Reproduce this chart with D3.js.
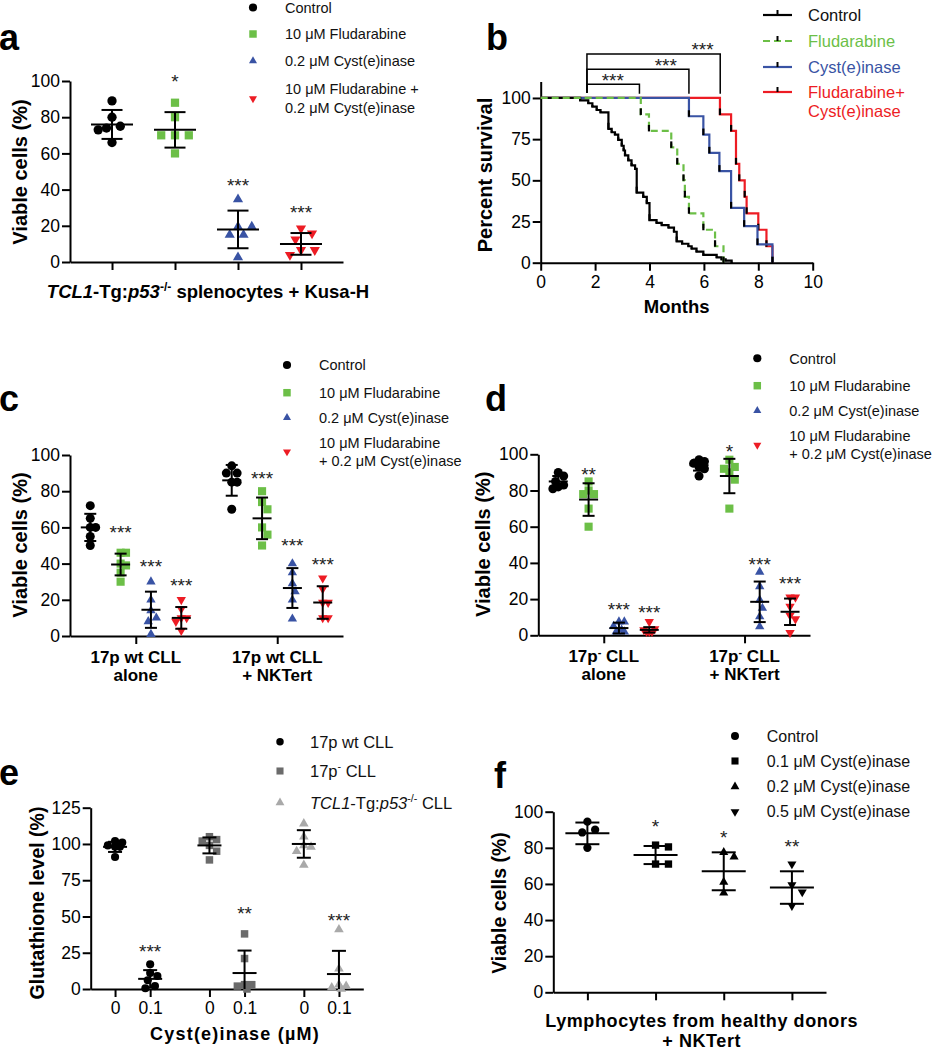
<!DOCTYPE html>
<html>
<head>
<meta charset="utf-8">
<script src="https://cdn.jsdelivr.net/npm/d3@7"></script>
<style>
  body { margin: 0; background: #fff; }
  svg { display: block; }
</style>
</head>
<body>
<svg id="fig" width="937" height="1050"></svg>
<script>
// ---------- data ----------

// panel a : TCL1-Tg:p53-/- splenocytes + Kusa-H
const aLegend = [['Control'], ['10 μM Fludarabine'], ['0.2 μM Cyst(e)inase'], ['10 μM Fludarabine +', '0.2 μM Cyst(e)inase']]
const aValues = [[89, 80, 75, 74, 73, 66], [88, 80, 70, 70, 70, 60], [34.6, 19.5, 19.5, 15, 15, 2.6], [18.6, 15.8, 12.5, 6.6, 6.6, 3.9]]
const aMean = [76, 73, 18, 10]
const aSd = [8, 9.8, 10.4, 6]
const aSig = ['', '*', '***', '***']
const aSigAt = [0, 102, 45, 30]

// panel b : survival (months, percent)
const ctrlTime = [0, 1.45, 1.75, 1.9, 2.06, 2.2, 2.49, 2.61, 2.73, 2.85, 2.98, 3.05, 3.1, 3.22, 3.34, 3.47, 3.53, 3.77, 3.9, 4.0, 4.26, 4.45, 4.7, 4.9, 5.0, 5.2, 5.43, 5.55, 5.73, 5.98, 6.47, 6.65, 6.8, 7.02]
const ctrlSurv = [100, 98.5, 96.8, 94.8, 92.7, 91.3, 81.3, 79.2, 77.8, 74.6, 71, 68.1, 65.1, 62.1, 59.1, 57, 42.5, 40, 36.2, 25.8, 24.2, 22.8, 21.3, 18.8, 13, 11.5, 10, 8.5, 6.7, 4.7, 3.2, 2, 1.2, 0]
const fluTime = [0, 3.68, 3.98, 4.8, 5.02, 5.25, 5.3, 5.45, 5.98, 6.41, 6.72]
const fluSurv = [100, 90, 80, 70, 60, 50, 40, 30, 20, 10, 0]
const cysTime = [0, 5.45, 5.98, 6.2, 6.57, 7.0, 7.48, 7.97, 8.52]
const cysSurv = [100, 88.9, 77.8, 66.7, 55.6, 33.3, 22.2, 11.1, 0]
const comTime = [0, 6.59, 7.0, 7.18, 7.3, 7.5, 7.57, 8.0, 8.3, 8.52]
const comSurv = [100, 90, 80, 60, 50, 40, 30, 20, 10, 0]
const bLegend = [['Control'], ['Fludarabine'], ['Cyst(e)inase'], ['Fludarabine+', 'Cyst(e)inase']]
const bracketStart = 1.7
const bracketEnd = [3.63, 5.45, 6.6]
const bracketTop = [108.3, 117.4, 126.7]
const bracketStarX = [2.65, 4.6, 5.95]

// panel c : 17p wt CLL
const cGroups = [['17p wt CLL', 'alone'], ['17p wt CLL', '+ NKTert']]
const cLegend = [['Control'], ['10 μM Fludarabine'], ['0.2 μM Cyst(e)inase'], ['10 μM Fludarabine', '+ 0.2 μM Cyst(e)inase']]
const cValues = [
  [[72, 65, 60, 60, 55, 50], [46, 46, 40, 39, 35, 30], [30, 20, 14, 10, 8, 1], [20, 15, 10, 10, 8, 3]],
  [[94, 90, 90, 85, 85, 70], [80, 74, 70, 60, 56, 50], [40, 35, 29, 24.5, 20, 9.5], [32, 26, 18.5, 18.5, 10, 10]]
]
const cMean = [[60, 39.5, 14.5, 10], [86, 65, 26.5, 18.5]]
const cSd = [[7.5, 6, 10, 6], [8.5, 11.5, 11, 9]]
const cSig = [['', '***', '***', '***'], ['', '***', '***', '***']]
const cSigAt = [[0, 59.5, 40.7, 30.4], [0, 89.3, 52.5, 42]]

// panel d : 17p- CLL
const dGroups = [['17p<sup>-</sup> CLL', 'alone'], ['17p<sup>-</sup> CLL', '+ NKTert']]
const dValues = [
  [[90, 88, 85, 83, 82, 81], [85, 80, 78, 78, 70, 60], [7.5, 7.5, 5, 3, 2, 2], [7.5, 3.5, 3, 2, 2, 2]],
  [[97, 96, 95, 93, 92, 88], [97, 93, 92, 90, 86, 70], [35, 27, 19.5, 15, 10.3, 4.8], [21, 21, 16, 11, 9, 1.5]]
]
const dMean = [[85, 75, 4, 3], [94, 88, 18.5, 13]]
const dSd = [[3, 9, 3, 1.5], [3, 9.5, 11.2, 7.3]]
const dSig = [['', '**', '***', '***'], ['', '*', '***', '***']]
const dSigAt = [[0, 91.3, 16.8, 15], [0, 104, 41.6, 31]]

// panel e : glutathione
const eLegend = ['17p wt CLL', '17p<sup>-</sup> CLL', '<i>TCL1</i>-Tg:<i>p53</i><sup>-/-</sup> CLL']
const eDoses = ['0', '0.1']
const eValues = [
  [[102, 101, 99, 98, 98, 91], [17, 11, 9, 6, 2, 0.5]],
  [[105, 103, 102, 99, 95, 89], [38, 21, 3, 3, 2, 0]],
  [[114, 105, 99, 98, 95, 85.5], [41, 14, 3, 2, 1, 0]]
]
const eMean = [[98, 7], [99, 11], [100, 10.3]]
const eSd = [[3.5, 6], [5.5, 15.5], [9.5, 16]]
const eSig = [['', '***'], ['', '**'], ['', '***']]
const eSigAt = [[0, 29], [0, 55], [0, 50]]

// panel f : healthy lymphocytes
const fLegend = ['Control', '0.1 μM Cyst(e)inase', '0.2 μM Cyst(e)inase', '0.5 μM Cyst(e)inase']
const fValues = [[94.5, 90, 88.5, 80], [81.5, 80.5, 71, 71], [77.5, 75, 61, 55], [71, 59.5, 55.5, 48]]
const fMean = [88, 76, 67, 58]
const fSd = [6, 5, 10.5, 9]
const fSig = ['', '*', '*', '**']
const fSigAt = [0, 94.5, 88, 83]

// ---------- drawing ----------
const FONT = '"Liberation Sans", Arial, sans-serif'
const GREEN = '#6cbf47', BLUE = '#3953a4', RED = '#ed1c24'
const TICK_FS = 17.5
const treatShapes = ['circle', 'square', 'up', 'down']
const treatColors = ['#000', GREEN, BLUE, RED]

const fig = d3.select('#fig').attr('font-family', FONT)

function styleAxis(g, fs) {
  g.attr('font-family', FONT).attr('font-size', fs)
  g.select('.domain').attr('stroke', '#000').attr('stroke-width', 2)
  g.selectAll('.tick line').attr('stroke', '#000').attr('stroke-width', 2)
  g.selectAll('.tick text').attr('fill', '#000')
}

// text with <i> and <sup> parts
function rich(text, str, fs) {
  let back = 0
  str.split(/(<i>.*?<\/i>|<sup>.*?<\/sup>)/).filter(s => s).forEach(s => {
    let t
    if (s.startsWith('<i>')) t = text.append('tspan').attr('font-style', 'italic').text(s.slice(3, -4))
    else if (s.startsWith('<sup>')) t = text.append('tspan').attr('font-size', fs * 0.65).text(s.slice(5, -6))
    else t = text.append('tspan').text(s)
    const dy = (s.startsWith('<sup>') ? -fs * 0.4 : 0) + back
    if (dy) t.attr('dy', dy)
    back = s.startsWith('<sup>') ? fs * 0.4 : 0
  })
  return text
}

function symbolPath(shape, size) {
  const t = shape === 'circle' ? d3.symbolCircle : shape === 'square' ? d3.symbolSquare : d3.symbolTriangle
  return d3.symbol().type(t).size(size)()
}

// spread overlapping points sideways, within +-maxOff; overlap when there is no room
function swarm(ys, r, maxOff, gapK) {
  const order = d3.range(ys.length).sort((a, b) => ys[a] - ys[b])
  const step = r * 0.6
  const cands = [0]
  for (let k = 1; k * step <= maxOff + 0.01; k++) cands.push(k * step, -k * step)
  const placed = [], off = ys.map(() => 0)
  order.forEach(i => {
    let best = 0, bestD = -1
    for (const dx of cands) {
      const d = placed.length ? d3.min(placed, p => Math.hypot(p[0] - dx, p[1] - ys[i])) : Infinity
      if (d >= r * gapK) { best = dx; bestD = Infinity; break }
      if (d > bestD + 0.5) { bestD = d; best = dx }
    }
    off[i] = best
    placed.push([best, ys[i]])
  })
  return off
}

function drawColumns(g, cols, y, o) {
  cols.forEach(c => {
    const ys = c.values.map(v => y(v))
    const off = swarm(ys, o.r, o.maxOff, o.gapK || 1.9)
    g.append('g').selectAll('path').data(c.values).join('path')
      .attr('d', symbolPath(c.shape, o.sizes[c.shape]))
      .attr('transform', (v, i) => `translate(${c.x + off[i]},${ys[i]})` + (c.shape === 'down' ? ' rotate(180)' : ''))
      .attr('fill', c.color)
  })
  cols.forEach(c => {
    const lo = Math.max(y.domain()[0], c.mean - c.sd), hi = c.mean + c.sd
    const eb = g.append('g').attr('stroke', '#000').attr('stroke-width', 2)
    eb.append('line').attr('x1', c.x).attr('x2', c.x).attr('y1', y(lo)).attr('y2', y(hi))
    eb.append('line').attr('x1', c.x - o.capW).attr('x2', c.x + o.capW).attr('y1', y(hi)).attr('y2', y(hi))
    if (c.mean - c.sd > 0) eb.append('line').attr('x1', c.x - o.capW).attr('x2', c.x + o.capW).attr('y1', y(lo)).attr('y2', y(lo))
    eb.append('line').attr('x1', c.x - o.meanW).attr('x2', c.x + o.meanW).attr('y1', y(c.mean)).attr('y2', y(c.mean))
    if (c.sig) {
      g.append('text').attr('x', c.x).attr('y', y(c.sigAt) + 11)
        .attr('text-anchor', 'middle').attr('font-size', 19).attr('fill', '#222').text(c.sig)
    }
  })
}

function scatterLegend(g, items, o) {
  items.forEach(it => {
    g.append('path').attr('d', symbolPath(it.shape, o.sizes[it.shape]))
      .attr('transform', `translate(${o.mx},${it.y})` + (it.shape === 'down' ? ' rotate(180)' : ''))
      .attr('fill', it.color)
    const lines = Array.isArray(it.lines) ? it.lines : [it.lines]
    lines.forEach((ln, j) => {
      const cy = it.y + (j - (lines.length - 1) / 2) * o.gap
      const t = g.append('text').attr('x', o.tx).attr('y', cy + o.fs * 0.36).attr('font-size', o.fs).attr('fill', '#111')
      rich(t, ln, o.fs)
    })
  })
}

function yTitle(g, str, x, cy, fs) {
  g.append('text').attr('transform', `translate(${x},${cy}) rotate(-90)`)
    .attr('text-anchor', 'middle').attr('font-weight', 'bold').attr('font-size', fs).text(str)
}

function panelLetter(str, x, y) {
  fig.append('text').attr('x', x).attr('y', y).attr('font-size', 36).attr('font-weight', 'bold').text(str)
}

// ---- panel a ----
{
  const g = fig.append('g')
  const x = d3.scalePoint().domain(d3.range(4)).range([70, 343]).padding(0.667)
  const y = d3.scaleLinear().domain([0, 100]).range([262, 81])
  g.append('g').attr('transform', 'translate(0,262)')
    .call(d3.axisBottom(x).tickFormat('').tickSize(8).tickSizeOuter(0)).call(styleAxis, TICK_FS)
  g.append('g').attr('transform', 'translate(70,0)')
    .call(d3.axisLeft(y).tickValues([0, 20, 40, 60, 80, 100]).tickSize(8).tickPadding(2).tickSizeOuter(0)).call(styleAxis, TICK_FS)
  const cols = aValues.map((v, i) => ({ x: x(i), values: v, mean: aMean[i], sd: aSd[i], sig: aSig[i], sigAt: aSigAt[i], shape: treatShapes[i], color: treatColors[i] }))
  drawColumns(g, cols, y, { r: 4.6, maxOff: 14, gapK: 2.5, sizes: { circle: 68, square: 68, up: 45, down: 45 }, capW: 10.5, meanW: 21 })
  yTitle(g, 'Viable cells (%)', 27, 172, 20)
  rich(g.append('text').attr('x', 208).attr('y', 298).attr('text-anchor', 'middle')
    .attr('font-weight', 'bold').attr('font-size', 18.5), '<i>TCL1</i>-Tg:<i>p53</i><sup>-/-</sup> splenocytes + Kusa-H', 18.5)
  scatterLegend(g, aLegend.map((l, i) => ({ lines: l, shape: treatShapes[i], color: treatColors[i], y: [7.5, 34, 61, 98.5][i] })),
    { mx: 253, tx: 285, fs: 14.5, gap: 19, sizes: { circle: 52, square: 56, up: 28, down: 28 } })
  panelLetter('a', -1, 50)
}

// ---- panel b ----
{
  const g = fig.append('g')
  const x = d3.scaleLinear().domain([0, 10]).range([540.7, 812.7])
  const y = d3.scaleLinear().domain([0, 110]).range([262.7, 81.5])
  g.append('g').attr('transform', 'translate(0,262.7)')
    .call(d3.axisBottom(x).tickValues([0, 2, 4, 6, 8, 10]).tickSize(8).tickPadding(5).tickSizeOuter(0)).call(styleAxis, TICK_FS)
  g.append('g').attr('transform', 'translate(540.7,0)')
    .call(d3.axisLeft(y).tickValues([0, 25, 50, 75, 100]).tickSize(8).tickPadding(2).tickSizeOuter(0)).call(styleAxis, TICK_FS)

  const line = d3.line().x(d => x(d[0])).y(d => y(d[1])).curve(d3.curveStepAfter)
  const curves = [
    { t: comTime, s: comSurv, color: RED },
    { t: cysTime, s: cysSurv, color: BLUE },
    { t: ctrlTime, s: ctrlSurv, color: '#000' },
    { t: fluTime, s: fluSurv, color: GREEN, dash: '7,4' }
  ]
  curves.forEach(c => {
    const pts = d3.zip(c.t, c.s)
    g.append('path').attr('d', line(pts)).attr('fill', 'none').attr('stroke', c.color)
      .attr('stroke-width', 2.2).attr('stroke-dasharray', c.dash || null)
    g.append('g').selectAll('line').data(pts.slice(1)).join('line')
      .attr('x1', d => x(d[0])).attr('x2', d => x(d[0]))
      .attr('y1', (d, i) => y(d[1]) - Math.min(6, (y(d[1]) - y(pts[i][1])) * 0.5)).attr('y2', d => y(d[1]) + 0.5)
      .attr('stroke', '#000').attr('stroke-width', 2.2)
  })

  // significance brackets
  bracketEnd.forEach((e, i) => {
    g.append('path')
      .attr('d', `M${x(bracketStart)},${y(103)}V${y(bracketTop[i])}H${x(e)}V${y(102.5)}`)
      .attr('fill', 'none').attr('stroke', '#000').attr('stroke-width', 1.5)
    g.append('text').attr('x', x(bracketStarX[i])).attr('y', y(bracketTop[i]) + 2.5)
      .attr('text-anchor', 'middle').attr('font-size', 19).attr('fill', '#222').text('***')
  })

  yTitle(g, 'Percent survival', 492, 175, 20)
  g.append('text').attr('x', x(5)).attr('y', 313).attr('text-anchor', 'middle')
    .attr('font-weight', 'bold').attr('font-size', 18.5).text('Months')

  // legend
  const ly = [15, 41, 67, 92]
  const lc = ['#000', GREEN, BLUE, RED]
  const ld = [null, '7,4', null, null]
  bLegend.forEach((l, i) => {
    g.append('line').attr('x1', 763).attr('x2', 792).attr('y1', ly[i]).attr('y2', ly[i])
      .attr('stroke', lc[i]).attr('stroke-width', 2.2).attr('stroke-dasharray', ld[i])
    g.append('line').attr('x1', 777.5).attr('x2', 777.5).attr('y1', ly[i] - 5).attr('y2', ly[i])
      .attr('stroke', '#000').attr('stroke-width', 2)
    l.forEach((t, j) => {
      g.append('text').attr('x', 808).attr('y', ly[i] + j * 19 + 6).attr('font-size', 16.5)
        .attr('fill', i === 0 ? '#111' : lc[i]).text(t)
    })
  })
  panelLetter('b', 486, 50)
}

// ---- panels c and d ----
function groupedPanel(o) {
  const g = fig.append('g')
  const outer = d3.scalePoint().domain([0, 1]).range([o.x0, o.x1]).padding(0.465)
  const inner = d3.scalePoint().domain(d3.range(4)).range([-o.half, o.half])
  const y = d3.scaleLinear().domain([0, 100]).range([o.yb, o.yt])
  g.append('g').attr('transform', `translate(0,${o.yb})`)
    .call(d3.axisBottom(outer).tickFormat('').tickSize(8).tickSizeOuter(0)).call(styleAxis, TICK_FS)
  g.append('g').attr('transform', `translate(${o.x0},0)`)
    .call(d3.axisLeft(y).tickValues([0, 20, 40, 60, 80, 100]).tickSize(8).tickPadding(2).tickSizeOuter(0)).call(styleAxis, TICK_FS)
  const cols = []
  o.values.forEach((grp, gi) => grp.forEach((v, ti) => cols.push({
    x: outer(gi) + inner(ti), values: v, mean: o.mean[gi][ti], sd: o.sd[gi][ti],
    sig: o.sig[gi][ti], sigAt: o.sigAt[gi][ti], shape: treatShapes[ti], color: treatColors[ti]
  })))
  drawColumns(g, cols, y, { r: 4.5, maxOff: 7, sizes: { circle: 64, square: 66, up: 38, down: 38 }, capW: 6, meanW: 9.5 })
  o.groups.forEach((lines, gi) => lines.forEach((ln, j) => {
    rich(g.append('text').attr('x', outer(gi)).attr('y', o.yb + 27 + j * 18).attr('text-anchor', 'middle')
      .attr('font-weight', 'bold').attr('font-size', 17), ln, 17)
  }))
  yTitle(g, 'Viable cells (%)', o.titleX, (o.yt + o.yb) / 2 - 0.5, 20)
  scatterLegend(g, cLegend.map((l, i) => ({ lines: l, shape: treatShapes[i], color: treatColors[i], y: o.legendY[i] })),
    { mx: o.mx, tx: o.tx, fs: 14.5, gap: 18.4, sizes: { circle: 52, square: 56, up: 28, down: 28 } })
}

groupedPanel({ x0: 70, x1: 343, yb: 636, yt: 455, half: 45.5, values: cValues, mean: cMean, sd: cSd, sig: cSig, sigAt: cSigAt,
  groups: cGroups, titleX: 27, mx: 287, tx: 319, legendY: [365, 392.7, 417.7, 451.7] })
panelLetter('c', -1, 411)

groupedPanel({ x0: 538.3, x1: 810, yb: 635.3, yt: 454.3, half: 45.5, values: dValues, mean: dMean, sd: dSd, sig: dSig, sigAt: dSigAt,
  groups: dGroups, titleX: 490, mx: 757.3, tx: 789.3, legendY: [358.3, 385.7, 410.7, 445] })
panelLetter('d', 485, 411)

// ---- panel e ----
{
  const g = fig.append('g')
  const x = d3.scaleLinear().domain([-0.444, 2.444]).range([90.7, 363.3])
  const y = d3.scaleLinear().domain([0, 125]).range([989, 807.7])
  const eShapes = ['circle', 'square', 'up']
  const eColors = ['#000', '#6b6b6b', '#a9a9a9']
  const cols = []
  eValues.forEach((grp, gi) => grp.forEach((v, di) => cols.push({
    pos: gi + (di ? 0.186 : -0.186), values: v, mean: eMean[gi][di], sd: eSd[gi][di],
    sig: eSig[gi][di], sigAt: eSigAt[gi][di], shape: eShapes[gi], color: eColors[gi]
  })))
  cols.forEach(c => { c.x = x(c.pos) })
  g.append('g').attr('transform', 'translate(0,989)')
    .call(d3.axisBottom(x).tickValues(cols.map(c => c.pos)).tickFormat((d, i) => eDoses[i % 2])
      .tickSize(8).tickPadding(5).tickSizeOuter(0)).call(styleAxis, TICK_FS)
  g.append('g').attr('transform', 'translate(90.7,0)')
    .call(d3.axisLeft(y).tickValues([0, 25, 50, 75, 100, 125]).tickSize(8).tickPadding(2).tickSizeOuter(0)).call(styleAxis, TICK_FS)
  drawColumns(g, cols, y, { r: 4, maxOff: 8, sizes: { circle: 52, square: 56, up: 40 }, capW: 7, meanW: 12 })
  yTitle(g, 'Glutathione level (%)', 44, 903, 19.5)
  g.append('text').attr('x', 235).attr('y', 1040).attr('text-anchor', 'middle').attr('font-weight', 'bold')
    .attr('font-size', 18).attr('letter-spacing', 1.2).text('Cyst(e)inase (µM)')
  scatterLegend(g, eLegend.map((l, i) => ({ lines: l, shape: eShapes[i], color: eColors[i], y: [741.7, 771, 802.7][i] })),
    { mx: 280, tx: 310, fs: 16.5, gap: 18, sizes: { circle: 44, square: 50, up: 34 } })
  panelLetter('e', -1, 785)
}

// ---- panel f ----
{
  const g = fig.append('g')
  const x = d3.scalePoint().domain(d3.range(4)).range([553.3, 826]).padding(0.5)
  const y = d3.scaleLinear().domain([0, 100]).range([992.3, 811.7])
  const fShapes = ['circle', 'square', 'up', 'down']
  g.append('g').attr('transform', 'translate(0,992.3)')
    .call(d3.axisBottom(x).tickFormat('').tickSize(8).tickSizeOuter(0)).call(styleAxis, TICK_FS)
  g.append('g').attr('transform', 'translate(553.3,0)')
    .call(d3.axisLeft(y).tickValues([0, 20, 40, 60, 80, 100]).tickSize(8).tickPadding(2).tickSizeOuter(0)).call(styleAxis, TICK_FS)
  const cols = fValues.map((v, i) => ({ x: x(i), values: v, mean: fMean[i], sd: fSd[i], sig: fSig[i], sigAt: fSigAt[i], shape: fShapes[i], color: '#000' }))
  drawColumns(g, cols, y, { r: 4.3, maxOff: 14, gapK: 2.5, sizes: { circle: 54, square: 54, up: 36, down: 36 }, capW: 12, meanW: 22 })
  yTitle(g, 'Viable cells (%)', 506, 903, 19.5)
  ;['Lymphocytes from healthy donors', '+ NKTert'].forEach((t, j) => {
    g.append('text').attr('x', 701.7).attr('y', 1027 + j * 20).attr('text-anchor', 'middle').attr('font-weight', 'bold')
      .attr('font-size', 18).attr('letter-spacing', 0.6).text(t)
  })
  scatterLegend(g, fLegend.map((l, i) => ({ lines: l, shape: fShapes[i], color: '#000', y: [736, 761, 786.7, 811.7][i] })),
    { mx: 735, tx: 766.7, fs: 16, gap: 18, sizes: { circle: 50, square: 50, up: 34, down: 34 } })
  panelLetter('f', 494, 788)
}
</script>
</body>
</html>
